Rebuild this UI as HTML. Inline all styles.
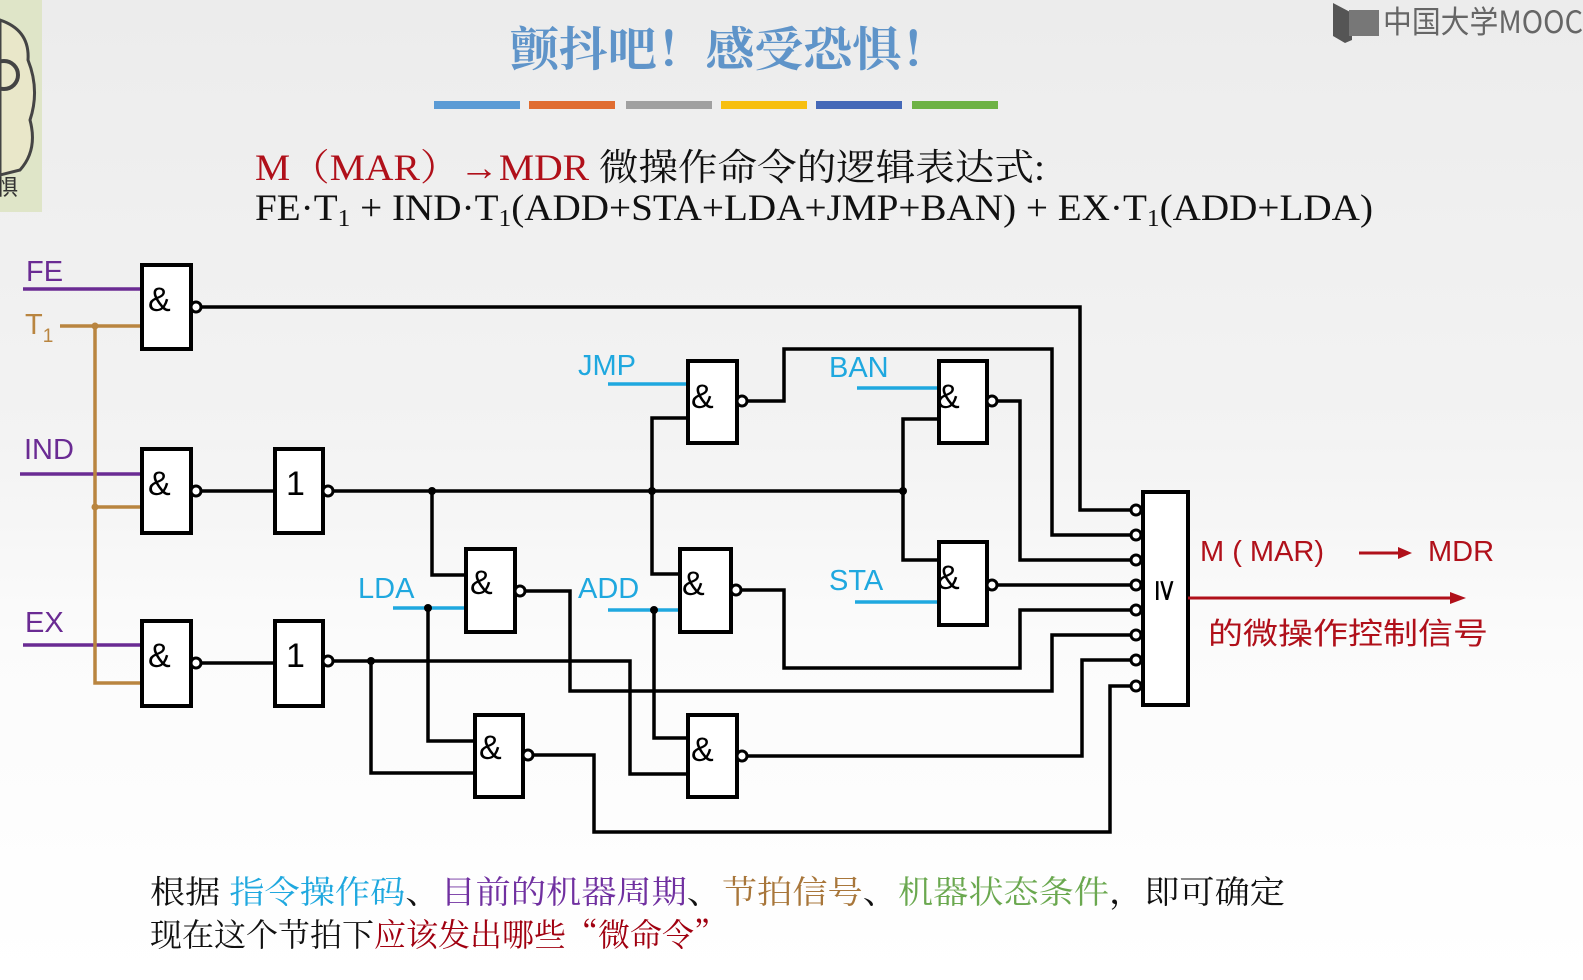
<!DOCTYPE html>
<html><head><meta charset="utf-8"><style>
html,body{margin:0;padding:0;}
body{width:1583px;height:980px;overflow:hidden;background:linear-gradient(#ececec 0%,#f3f3f3 45%,#fbfbfb 65%,#ffffff 100%);}
svg{position:absolute;left:0;top:0;}
</style></head><body>
<svg width="1583" height="980" viewBox="0 0 1583 980" xmlns="http://www.w3.org/2000/svg">
<rect x="0" y="0" width="42" height="212" fill="#dfe5c8"/>
<path d="M0 20 Q30 30 28 60 Q40 90 30 120 Q38 150 20 170 L0 175 Z" fill="#e9e7c9" stroke="#444" stroke-width="3"/>
<circle cx="4" cy="75" r="14" fill="none" stroke="#444" stroke-width="4"/>
<text x="-4" y="195" font-family="Noto Sans CJK SC, sans-serif" font-size="22" fill="#333">惧</text>
<path d="M1333 3 L1352 13 L1352 40 L1345 43 L1333 36 Z" fill="#555"/>
<rect x="1349" y="10" width="30" height="26" fill="#777"/>
<text x="1383" y="33" font-family="Noto Sans CJK SC, sans-serif" font-size="31" fill="#666" textLength="200" lengthAdjust="spacingAndGlyphs">中国大学MOOC</text>
<text x="510" y="66" font-family="Noto Serif CJK SC, Noto Sans CJK SC, serif" font-weight="bold" font-size="47" fill="#5f94c9" textLength="440" lengthAdjust="spacingAndGlyphs">颤抖吧！感受恐惧！</text>
<g>
<rect x="434" y="101" width="86" height="8" fill="#5b9bd5"/>
<rect x="529" y="101" width="86" height="8" fill="#e06c30"/>
<rect x="626" y="101" width="86" height="8" fill="#a0a0a0"/>
<rect x="721" y="101" width="86" height="8" fill="#f7bf10"/>
<rect x="816" y="101" width="86" height="8" fill="#4468b8"/>
<rect x="912" y="101" width="86" height="8" fill="#6db244"/>
</g>
<text x="255" y="180" font-family="Liberation Serif, Noto Serif CJK SC, serif" font-size="37" textLength="790" lengthAdjust="spacingAndGlyphs"><tspan fill="#b0101a">M（MAR）→MDR</tspan><tspan fill="#111"> 微操作命令的逻辑表达式:</tspan></text>
<text x="255" y="220" font-family="Liberation Serif, serif" font-size="37" fill="#111" textLength="1118" lengthAdjust="spacingAndGlyphs">FE·T<tspan font-size="24" dy="6">1</tspan><tspan dy="-6"> + IND·T</tspan><tspan font-size="24" dy="6">1</tspan><tspan dy="-6">(ADD+STA+LDA+JMP+BAN) + EX·T</tspan><tspan font-size="24" dy="6">1</tspan><tspan dy="-6">(ADD+LDA)</tspan></text>

<g stroke="#6a2b93" stroke-width="3.5" fill="none">
<line x1="23" y1="289" x2="142" y2="289"/>
<line x1="20" y1="474" x2="142" y2="474"/>
<line x1="23" y1="645" x2="142" y2="645"/>
</g>
<g stroke="#b98540" stroke-width="3.5" fill="none">
<line x1="60" y1="326" x2="142" y2="326"/>
<polyline points="95,326 95,683 142,683"/>
<line x1="95" y1="507" x2="142" y2="507"/>
</g>
<circle cx="95" cy="326" r="3.5" fill="#b98540"/><circle cx="95" cy="507" r="3.5" fill="#b98540"/>
<g font-family="Liberation Sans, DejaVu Sans, sans-serif" font-size="29" fill="#6a2b93">
<text x="26" y="281">FE</text><text x="24" y="459">IND</text><text x="25" y="632">EX</text>
</g>
<text x="25" y="334" font-family="Liberation Sans, sans-serif" font-size="29" fill="#b98540">T<tspan font-size="19" dy="8">1</tspan></text>

<g stroke="#1fa8df" stroke-width="3.5" fill="none">
<line x1="608" y1="384" x2="688" y2="384"/>
<line x1="857" y1="388" x2="939" y2="388"/>
<line x1="393" y1="608" x2="466" y2="608"/>
<line x1="608" y1="610" x2="680" y2="610"/>
<line x1="855" y1="602" x2="939" y2="602"/>
</g>
<g font-family="Liberation Sans, DejaVu Sans, sans-serif" font-size="29" fill="#1fa8df">
<text x="578" y="375">JMP</text><text x="829" y="377">BAN</text><text x="358" y="598">LDA</text><text x="578" y="598">ADD</text><text x="829" y="590">STA</text>
</g>

<g stroke="#000" stroke-width="3.5" fill="none">
<polyline points="200,307 1080,307 1080,510 1131,510"/>
<line x1="200" y1="491" x2="275" y2="491"/>
<line x1="200" y1="663" x2="275" y2="663"/>
<line x1="333" y1="491" x2="903" y2="491"/>
<polyline points="333,661 630,661 630,774 688,774"/>
<polyline points="432,491 432,575 466,575"/>
<polyline points="428,608 428,741 475,741"/>
<polyline points="371,661 371,773 475,773"/>
<polyline points="688,418 652,418 652,574 680,574"/>
<polyline points="654,610 654,738 688,738"/>
<polyline points="939,419 903,419 903,560 939,560"/>
<polyline points="746,401 784,401 784,349 1052,349 1052,535 1131,535"/>
<polyline points="996,401 1020,401 1020,560 1131,560"/>
<polyline points="996,585 1131,585"/>
<polyline points="740,590 784,590 784,668 1020,668 1020,610 1131,610"/>
<polyline points="525,591 570,591 570,691 1052,691 1052,635 1131,635"/>
<polyline points="746,756 1082,756 1082,660 1131,660"/>
<polyline points="531,755 594,755 594,832 1110,832 1110,686 1131,686"/>
</g>
<g fill="#000">
<circle cx="432" cy="491" r="4"/><circle cx="652" cy="491" r="4"/><circle cx="903" cy="491" r="4"/>
<circle cx="428" cy="608" r="4"/><circle cx="654" cy="610" r="4"/><circle cx="371" cy="661" r="4"/>
</g>

<g stroke="#000" stroke-width="4" fill="#fff">
<rect x="142" y="265" width="49" height="84"/>
<rect x="142" y="449" width="49" height="84"/>
<rect x="142" y="621" width="49" height="85"/>
<rect x="275" y="449" width="48" height="84"/>
<rect x="275" y="621" width="48" height="85"/>
<rect x="688" y="361" width="49" height="82"/>
<rect x="939" y="361" width="48" height="82"/>
<rect x="466" y="549" width="49" height="83"/>
<rect x="680" y="549" width="51" height="83"/>
<rect x="939" y="542" width="48" height="83"/>
<rect x="475" y="715" width="48" height="82"/>
<rect x="688" y="715" width="49" height="82"/>
<rect x="1143" y="492" width="45" height="213"/>
</g>
<g stroke="#000" stroke-width="3" fill="#fff">
<circle cx="196" cy="307" r="5"/><circle cx="196" cy="491" r="5"/><circle cx="196" cy="663" r="5"/>
<circle cx="328" cy="491" r="5"/><circle cx="328" cy="661" r="5"/>
<circle cx="742" cy="401" r="5"/><circle cx="992" cy="401" r="5"/>
<circle cx="520" cy="591" r="5"/><circle cx="736" cy="590" r="5"/><circle cx="992" cy="585" r="5"/>
<circle cx="528" cy="755" r="5"/><circle cx="742" cy="756" r="5"/>
<circle cx="1136" cy="510" r="5"/><circle cx="1136" cy="535" r="5"/><circle cx="1136" cy="560" r="5"/><circle cx="1136" cy="585" r="5"/>
<circle cx="1136" cy="610" r="5"/><circle cx="1136" cy="635" r="5"/><circle cx="1136" cy="660" r="5"/><circle cx="1136" cy="686" r="5"/>
</g>
<g font-family="Liberation Sans, DejaVu Sans, sans-serif" font-size="34" fill="#000">
<text x="148" y="311">&amp;</text><text x="148" y="495">&amp;</text><text x="148" y="667">&amp;</text>
<text x="286" y="495">1</text><text x="286" y="667">1</text>
<text x="691" y="408">&amp;</text><text x="937" y="408">&amp;</text>
<text x="470" y="594">&amp;</text><text x="682" y="595">&amp;</text><text x="937" y="589">&amp;</text>
<text x="479" y="759">&amp;</text><text x="691" y="761">&amp;</text>
</g>
<text x="1152" y="598" font-family="DejaVu Sans, sans-serif" font-size="30" fill="#000" transform="rotate(90 1164 590)">≥</text>

<line x1="1188" y1="598" x2="1455" y2="598" stroke="#b0101a" stroke-width="3"/>
<path d="M1466 598 L1450 592 L1450 604 Z" fill="#b0101a"/>
<text x="1200" y="561" font-family="Liberation Sans, DejaVu Sans, sans-serif" font-size="29" fill="#b0101a">M ( MAR)</text>
<line x1="1359" y1="553" x2="1400" y2="553" stroke="#b0101a" stroke-width="3"/>
<path d="M1412 553 L1398 547 L1398 559 Z" fill="#b0101a"/>
<text x="1428" y="561" font-family="Liberation Sans, DejaVu Sans, sans-serif" font-size="29" fill="#b0101a">MDR</text>
<text x="1208" y="644" font-family="Noto Sans CJK SC, sans-serif" font-size="30" fill="#b0101a" textLength="280" lengthAdjust="spacingAndGlyphs">的微操作控制信号</text>

<text x="150" y="903" font-family="Noto Serif CJK SC, serif" font-size="32" textLength="1135" lengthAdjust="spacingAndGlyphs"><tspan fill="#111">根据 </tspan><tspan fill="#1fa8df">指令操作码</tspan><tspan fill="#111">、</tspan><tspan fill="#7030a0">目前的机器周期</tspan><tspan fill="#111">、</tspan><tspan fill="#a8763a">节拍信号</tspan><tspan fill="#111">、</tspan><tspan fill="#6aa84f">机器状态条件</tspan><tspan fill="#111">，即可确定</tspan></text>
<text x="150" y="946" font-family="Noto Serif CJK SC, serif" font-size="32"><tspan fill="#111">现在这个节拍下</tspan><tspan fill="#a00010">应该发出哪些“微命令”</tspan></text>
</svg>
</body></html>
